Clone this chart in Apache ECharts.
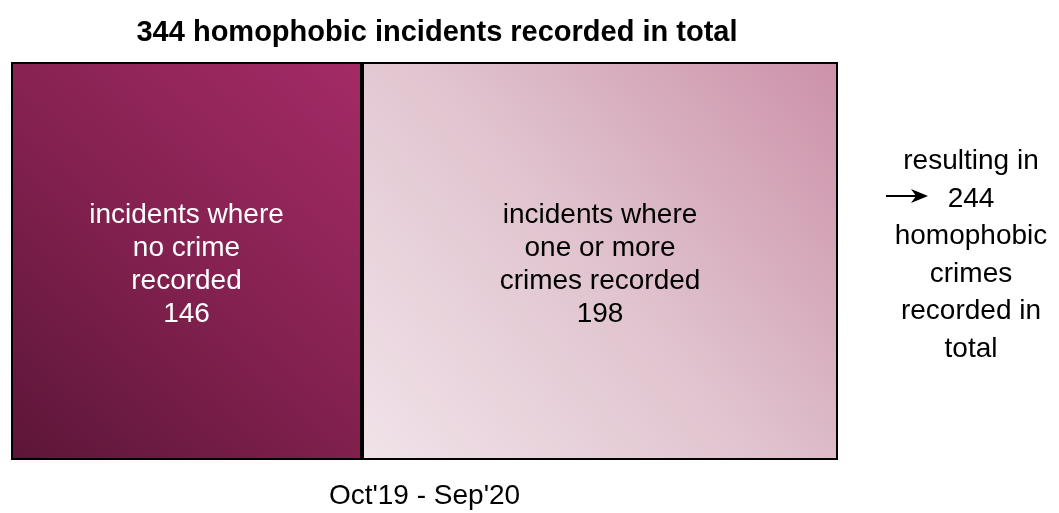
<!DOCTYPE html>
<html>
<head>
<meta charset="utf-8">
<script src="https://cdn.jsdelivr.net/npm/echarts@6/dist/echarts.min.js"></script>
<style>
html,body{margin:0;padding:0;background:#fff;}
#chart{width:1059px;height:513px;}
</style>
</head>
<body>
<div id="chart"></div>
<script>
// ---- data ----
var categories = ["Oct'19 - Sep'20"];
var segmentNames = ["incidents where\nno crime\nrecorded", "incidents where\none or more\ncrimes recorded"];
var noCrimeValues = [146];
var crimeValues = [198];
var totalCrimes = 244;
var titleText = "344 homophobic incidents recorded in total";
var annotationLines = ["resulting in", String(totalCrimes), "homophobic", "crimes", "recorded in", "total"];

var FONT = '"Liberation Sans", Arial, sans-serif';
var total = noCrimeValues[0] + crimeValues[0];

var chart = echarts.init(document.getElementById('chart'), null, {renderer: 'canvas'});

function grad(c0, c1, c2) {
  return new echarts.graphic.LinearGradient(0, 1, 1, 0, [
    {offset: 0, color: c0}, {offset: 0.5, color: c1}, {offset: 1, color: c2}
  ]);
}

var option = {
  backgroundColor: '#ffffff',
  animation: false,
  title: {
    text: titleText,
    left: 432,
    top: 13,
    textAlign: 'center',
    textStyle: {fontFamily: FONT, fontSize: 29, fontWeight: 'bold', color: '#000'}
  },
  grid: {left: 11, right: 221, top: 62, bottom: 53, containLabel: false, outerBoundsMode: 'none'},
  xAxis: {
    type: 'value', min: 0, max: total,
    axisLine: {show: false}, axisTick: {show: false}, axisLabel: {show: false}, splitLine: {show: false},
    name: categories[0], nameLocation: 'middle', nameGap: 22,
    nameTextStyle: {fontFamily: FONT, fontSize: 28, color: '#000'}
  },
  yAxis: {
    type: 'category', data: categories,
    axisLine: {show: false}, axisTick: {show: false}, axisLabel: {show: false}
  },
  series: [
    {
      name: segmentNames[0], type: 'bar', stack: 'a', data: noCrimeValues,
      barWidth: '100%',
      itemStyle: {color: grad('#5c1637', '#842150', '#a42b66'), borderColor: '#000', borderWidth: 2},
      label: {
        show: true, position: 'inside', color: '#fff', offset: [0, 4],
        fontFamily: FONT, fontSize: 28, lineHeight: 33, align: 'center',
        formatter: function (p) { return p.seriesName + '\n' + p.value; }
      }
    },
    {
      name: segmentNames[1], type: 'bar', stack: 'a', data: crimeValues,
      barWidth: '100%',
      itemStyle: {color: grad('#f1e3e9', '#e0c3ce', '#cc91a9'), borderColor: '#000', borderWidth: 2},
      label: {
        show: true, position: 'inside', color: '#000', offset: [0, 4],
        fontFamily: FONT, fontSize: 28, lineHeight: 33, align: 'center',
        formatter: function (p) { return p.seriesName + '\n' + p.value; }
      }
    }
  ],
  graphic: [
    {
      type: 'text', x: 971, y: 143,
      style: {
        text: annotationLines.join('\n'), textAlign: 'center', textVerticalAlign: 'top',
        font: '28px ' + FONT, lineHeight: 37.5, fill: '#000'
      }
    },
    {
      type: 'line', shape: {x1: 886, y1: 196, x2: 918, y2: 196},
      style: {stroke: '#000', lineWidth: 2}
    },
    {
      type: 'polygon', shape: {points: [[928, 196], [911, 189], [916, 196], [911, 203]]},
      style: {fill: '#000'}
    }
  ]
};
chart.setOption(option);
</script>
</body>
</html>
